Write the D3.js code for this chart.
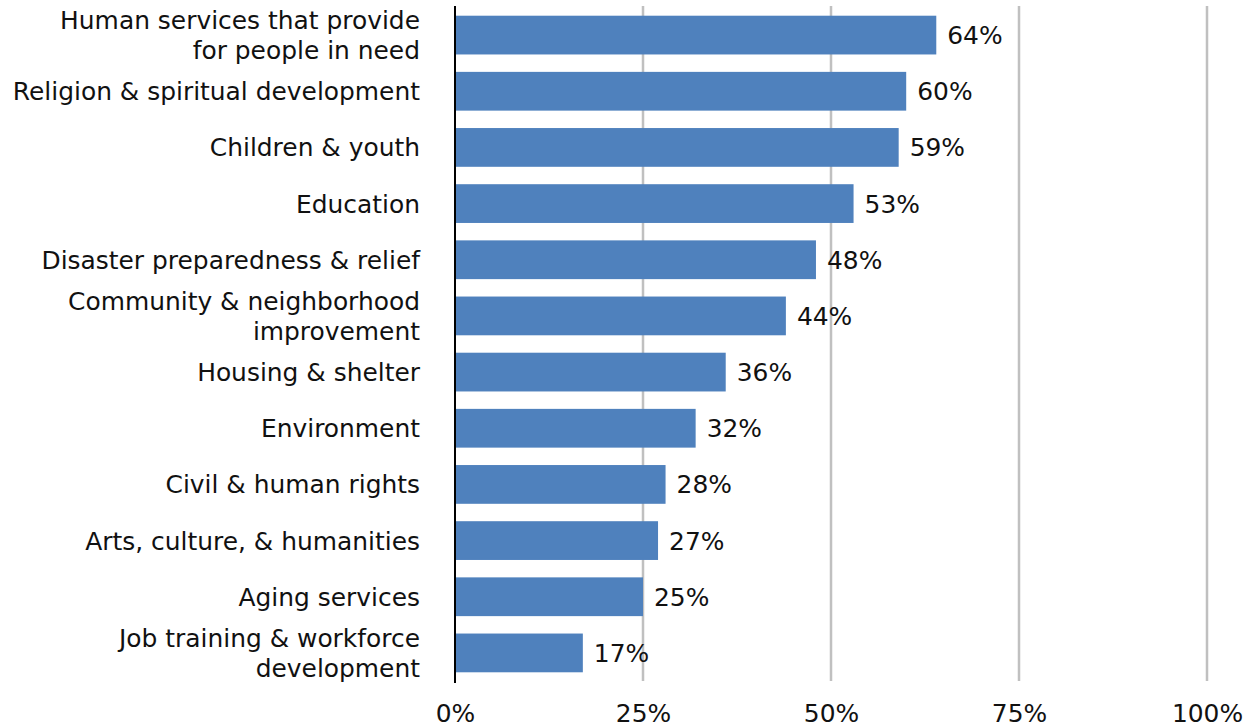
<!DOCTYPE html>
<html><head><meta charset="utf-8">
<script src="https://cdn.jsdelivr.net/npm/d3@7"></script>
<style>body{margin:0;background:#fff}text{font-family:"DejaVu Sans",sans-serif;fill:#111}</style>
</head><body><svg id="c" width="1255" height="727"></svg>
<script>
const categories = [
  ["Human services that provide","for people in need"],
  ["Religion & spiritual development"],
  ["Children & youth"],
  ["Education"],
  ["Disaster preparedness & relief"],
  ["Community & neighborhood","improvement"],
  ["Housing & shelter"],
  ["Environment"],
  ["Civil & human rights"],
  ["Arts, culture, & humanities"],
  ["Aging services"],
  ["Job training & workforce","development"]
];
const values = [64,60,59,53,48,44,36,32,28,27,25,17];
const tickValues = [0,25,50,75,100];

const svg = d3.select("#c");
const probe = svg.append("text").attr("font-size",24).text("Human services that provide");
const fs = Math.min(26, 24*360/probe.node().getComputedTextLength());
const bb = probe.node().getBBox();
probe.remove();
const lineGap = Math.max(24, bb.height*fs/24 + 0.5);

const x = d3.scaleLinear().domain([0,100]).range([455,1207]);
const y = d3.scaleBand().domain(d3.range(categories.length)).range([7,681]).paddingInner(0.31).paddingOuter(0.155);

svg.append("g").selectAll("line").data(tickValues.slice(1)).join("line")
  .attr("x1",d=>x(d)).attr("x2",d=>x(d)).attr("y1",6).attr("y2",681)
  .attr("stroke","#c0c0c0").attr("stroke-width",2.5);

svg.append("g").selectAll("rect").data(values).join("rect")
  .attr("x",x(0)).attr("y",(d,i)=>y(i)).attr("width",d=>x(d)-x(0)).attr("height",y.bandwidth())
  .attr("fill","#4f81bd");

svg.append("line").attr("x1",x(0)).attr("x2",x(0)).attr("y1",6).attr("y2",683)
  .attr("stroke","#000").attr("stroke-width",2);

svg.append("g").selectAll("text").data(values).join("text")
  .attr("x",d=>x(d)+11).attr("y",(d,i)=>y(i)+y.bandwidth()/2).attr("dy","0.36em")
  .attr("font-size",fs).text(d=>d+"%");

const lines = [];
categories.forEach((d,i)=>{
  const n=d.length;
  d.forEach((s,k)=>lines.push({i, s, off:(k-(n-1)/2)*lineGap}));
});
svg.append("g").selectAll("text").data(lines).join("text")
  .attr("text-anchor","end").attr("font-size",fs)
  .attr("x",420).attr("y",d=>y(d.i)+y.bandwidth()/2+d.off).attr("dy","0.36em")
  .text(d=>d.s);

const ax = d3.axisBottom(x).tickValues(tickValues).tickFormat(d=>d+"%").tickSize(0).tickPadding(0);
const g = svg.append("g").attr("transform","translate(0,704)").call(ax);
g.select(".domain").remove();
g.selectAll("text").attr("font-size",fs).attr("font-family","DejaVu Sans, sans-serif").attr("fill","#111").attr("dy","0.71em");
</script></body></html>
